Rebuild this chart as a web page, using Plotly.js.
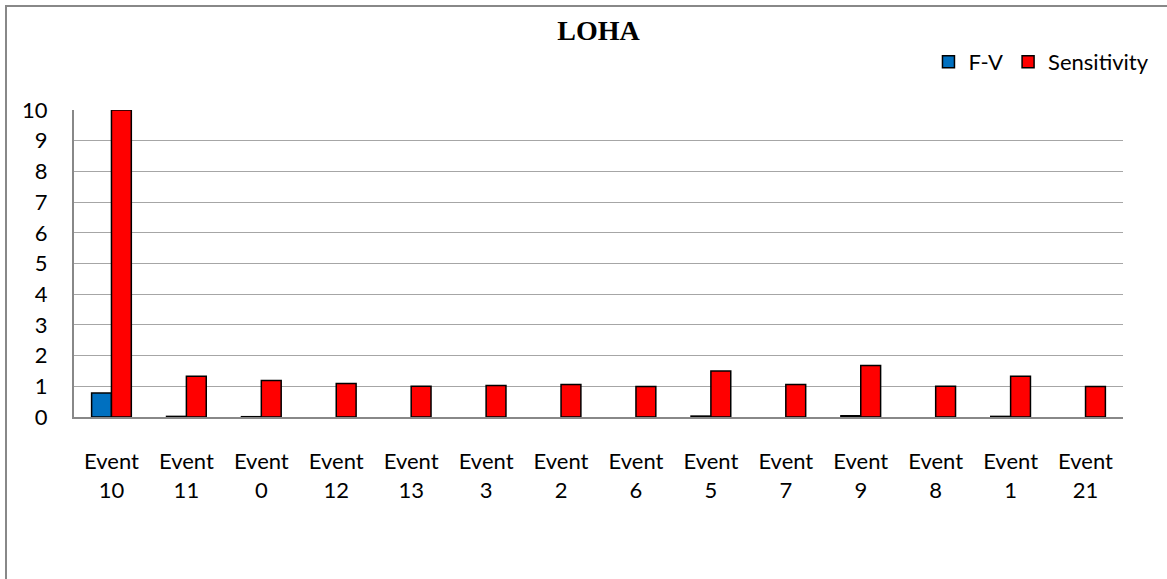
<!DOCTYPE html>
<html>
<head>
<meta charset="utf-8">
<script src="https://cdn.plot.ly/plotly-3.0.1.min.js"></script>
<style>html,body{margin:0;padding:0;background:#fff;}#chart{width:1167px;height:579px;}</style>
</head>
<body>
<div id="chart"></div>
<script>
var categories = ["Event 10","Event 11","Event 0","Event 12","Event 13","Event 3","Event 2","Event 6","Event 5","Event 7","Event 9","Event 8","Event 1","Event 21"];
var fvValues = [0.78, 0.02, 0.01, 0.0, 0.0, 0.0, 0.0, 0.0, 0.03, 0.0, 0.04, 0.0, 0.02, 0.0];
var sensitivityValues = [10, 1.33, 1.19, 1.09, 1.0, 1.03, 1.06, 0.99, 1.5, 1.06, 1.68, 1.0, 1.33, 0.99];
var tickLabels = categories.map(function(c){ return c.replace(" ", "<br>"); });

var baseFont = "Lato, 'Open Sans', sans-serif";

var traces = [
  {type:"bar", name:"F-V", x:categories, y:fvValues,
   marker:{color:"#0070c0", line:{color:"#000", width:fvValues.map(function(v){return v>0?1.5:0;})}}},
  {type:"bar", name:"Sensitivity", x:categories, y:sensitivityValues,
   marker:{color:"#ff0000", line:{color:"#000", width:1.5}}}
];

var layout = {
  width:1167, height:579,
  margin:{l:74, r:44, t:110, b:162},
  paper_bgcolor:"#fff", plot_bgcolor:"#fff",
  barmode:"group", bargap:0.47, bargroupgap:0,
  title:{text:"<b>LOHA</b>", x:0.5, xref:"paper", y:1-30/579, yref:"container", yanchor:"middle",
         font:{family:"'Liberation Serif', 'Times New Roman', serif", size:28, color:"#000"}},
  font:{family:baseFont, size:22, color:"#000"},
  showlegend:true,
  legend:{orientation:"h", x:1.03, xanchor:"right", y:1.225, yanchor:"top",
          font:{family:baseFont, size:22, color:"#000"}, bgcolor:"rgba(0,0,0,0)",
          traceorder:"normal", itemwidth:30},
  xaxis:{type:"category", tickvals:categories, ticktext:tickLabels,
         showline:true, linecolor:"#888", linewidth:2, showgrid:false,
         ticks:"outside", ticklen:24, tickcolor:"rgba(0,0,0,0)",
         tickfont:{family:baseFont, size:22, color:"#000"}, fixedrange:true},
  yaxis:{range:[0,10], dtick:1, tick0:0, showgrid:true, gridcolor:"#a6a6a6", gridwidth:1,
         showline:true, linecolor:"#888", linewidth:2, zeroline:false,
         ticks:"outside", ticklen:20, tickcolor:"rgba(0,0,0,0)",
         tickfont:{family:baseFont, size:22, color:"#000"}, fixedrange:true},
  shapes:[{type:"rect", xref:"paper", yref:"paper", layer:"below",
           x0:-68/1049, x1:1200/1049, y0:-600/307, y1:411/307,
           line:{color:"#888", width:2}, fillcolor:"rgba(0,0,0,0)"}]
};

Plotly.newPlot("chart", traces, layout, {displayModeBar:false, staticPlot:true});
</script>
</body>
</html>
